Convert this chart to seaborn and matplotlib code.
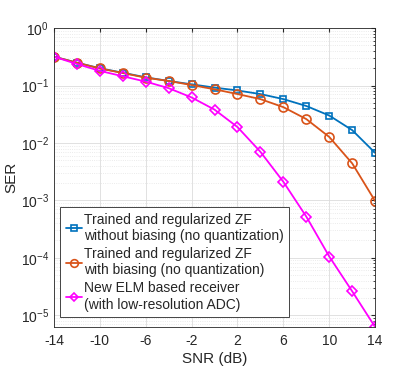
import matplotlib
matplotlib.use("Agg")
import matplotlib.pyplot as plt
import seaborn as sns
import numpy as np
import pandas as pd
from matplotlib.ticker import LogLocator, NullFormatter

# === Data ===
snr = [-14, -12, -10, -8, -6, -4, -2, 0, 2, 4, 6, 8, 10, 12, 14]
ser_zf_nobias = [0.318, 0.25, 0.20, 0.167, 0.139, 0.12, 0.105, 0.092, 0.082,
                 0.071, 0.058, 0.044, 0.030, 0.0167, 0.0067]
ser_zf_bias = [0.318, 0.25, 0.198, 0.165, 0.137, 0.12, 0.102, 0.086, 0.071,
               0.058, 0.042, 0.026, 0.0127, 0.0044, 0.00097]
ser_elm = [0.318, 0.237, 0.18, 0.145, 0.117, 0.09, 0.062, 0.038, 0.0189,
           0.0070, 0.0021, 5.2e-4, 1.05e-4, 2.6e-5, 6.2e-6]
labels = ["Trained and regularized ZF\nwithout biasing (no quantization)",
          "Trained and regularized ZF\nwith biasing (no quantization)",
          "New ELM based receiver\n(with low-resolution ADC)"]
xticks = [-14, -10, -6, -2, 2, 6, 10, 14]

series = [
    (ser_zf_nobias, "#0072BD", "s", 4.6),
    (ser_zf_bias, "#D95319", "o", 6.5),
    (ser_elm, "#FF00FF", "D", 5.2),
]

sns.set_style("white")
plt.rcParams["font.family"] = ["Liberation Sans", "DejaVu Sans"]
plt.rcParams["mathtext.fontset"] = "custom"
plt.rcParams["mathtext.rm"] = "Liberation Sans"

fig = plt.figure(figsize=(4.15, 3.7), dpi=100)
ax = fig.add_axes([0.130, 0.116, 0.774, 0.808])

for (vals, color, marker, ms), label in zip(series, labels):
    df = pd.DataFrame({"SNR": snr, "SER": vals})
    sns.lineplot(data=df, x="SNR", y="SER", ax=ax, color=color, marker=marker,
                 markersize=ms, markerfacecolor="none",
                 markeredgecolor=color, markeredgewidth=1.2, linewidth=1.3,
                 label=label)

ax.set_yscale("log")
ax.set_xlim(-14, 14)
ax.set_ylim(6.2e-6, 1)
ax.set_xticks(xticks)
ax.set_xticklabels([str(t) for t in xticks])
ax.yaxis.set_major_locator(LogLocator(base=10, numticks=10))
ax.yaxis.set_minor_locator(LogLocator(base=10, subs=np.arange(2, 10), numticks=20))
ax.yaxis.set_minor_formatter(NullFormatter())

ax.grid(True, which="major", color="#dcdcdc", linewidth=0.6)
ax.grid(True, which="minor", axis="y", color="#e4e4e4", linestyle=":", linewidth=0.6)
ax.tick_params(which="both", direction="in", length=3, colors="#262626",
               labelsize=10, top=True, right=True)
ax.tick_params(which="minor", length=1.8)
ax.tick_params(axis="x", pad=5)
for sp in ax.spines.values():
    sp.set_color("#262626")
    sp.set_linewidth(0.6)

ax.set_xlabel("SNR (dB)", fontsize=11, color="#262626", labelpad=3)
ax.set_ylabel("SER", fontsize=11, color="#262626", labelpad=2)

leg = ax.legend(loc="lower left", bbox_to_anchor=(0.019, 0.033), fontsize=10,
                frameon=True, fancybox=False, borderpad=0.4, labelspacing=0.3,
                handlelength=1.2, handletextpad=0.1, borderaxespad=0,
                markerscale=0.85, framealpha=1)
leg.get_frame().set_edgecolor("#262626")
leg.get_frame().set_linewidth(0.6)

plt.savefig("out.png", dpi=100)
